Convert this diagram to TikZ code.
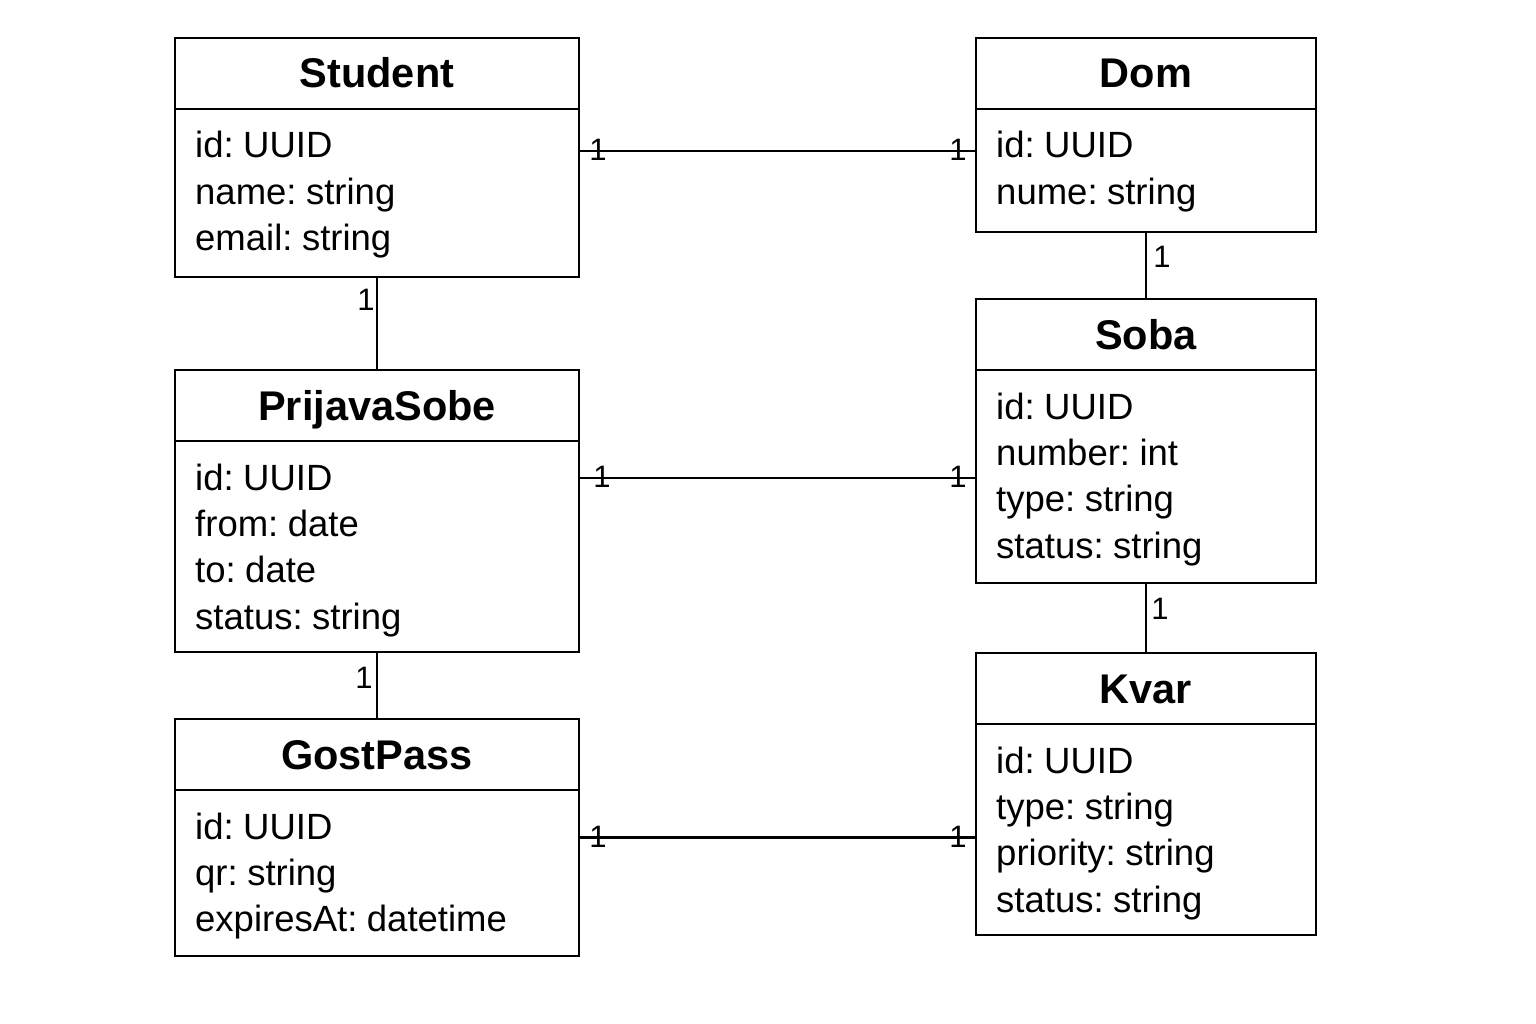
\documentclass[tikz,border=0pt]{standalone}
\usepackage{fontspec}
\setmainfont{Liberation Sans}
\newfontfamily\attrfont[WordSpace=0.6]{Liberation Sans}
\begin{document}
\begin{tikzpicture}[x=1pt,y=-1pt,
  box/.style={draw,line width=2.2pt,rectangle,inner sep=0pt},
  ctitle/.style={font=\fontsize{41.5}{46}\selectfont\bfseries,anchor=base,inner sep=0pt},
  cattr/.style={font=\attrfont\fontsize{36.5}{42}\selectfont,anchor=base west,inner sep=0pt},
  mult/.style={font=\fontsize{31}{34}\selectfont,inner sep=0pt},
  conn/.style={line width=2.4pt}]
\useasboundingbox (0,0) rectangle (1536,1024);
\fill[white] (0,0) rectangle (1536,1024);
% #1 name, #2 left, #3 top, #4 right, #5 bottom, #6 title, #7 attrs
\newcommand\umlclass[7]{%
  \node[box,minimum width={(#4-#2)*1pt},minimum height={(#5-#3)*1pt}] (#1) at ({(#2+#4)/2},{(#3+#5)/2}) {};
  \draw[line width=2.2pt] (#2,#3+71) -- (#4,#3+71);
  \node[ctitle] (#1-t) at ({(#2+#4)/2},#3+50) {#6};
  \foreach \t [count=\i] in {#7} {
    \node[cattr] (#1-a\i) at (#2+20,{#3+71+49+(\i-1)*46.4}) {\t};
  }
}
\umlclass{student}{175}{38}{579}{277}{Student}{id: UUID,name: string,email: string}
\umlclass{dom}{976}{38}{1316}{232}{Dom}{id: UUID,nume: string}
\umlclass{soba}{976}{299}{1316}{583}{Soba}{id: UUID,number: int,type: string,status: string}
\umlclass{prijava}{175}{370}{579}{652}{PrijavaSobe}{id: UUID,from: date,to: date,status: string}
\umlclass{gost}{175}{719}{579}{956}{GostPass}{id: UUID,qr: string,expiresAt: datetime}
\umlclass{kvar}{976}{653}{1316}{935}{Kvar}{id: UUID,type: string,priority: string,status: string}
% connectors
\draw[conn] ([yshift=6.5pt]student.east) coordinate (c1) -- (c1 -| dom.west) coordinate (c2);
\draw[conn] ([yshift=33pt]prijava.east) coordinate (c3) -- (c3 -| soba.west) coordinate (c4);
\draw[conn] (gost.east) coordinate (c5) -- (c5 -| kvar.west) coordinate (c6);
\draw[conn] (student.south) -- (prijava.north);
\draw[conn] (prijava.south) -- (gost.north);
\draw[conn] (dom.south) -- (soba.north);
\draw[conn] (soba.south) -- (kvar.north);
% multiplicities
\node[mult] (m1) at ([xshift=18pt,yshift=1pt]c1) {1};
\node[mult] (m2) at ([xshift=-17pt,yshift=1pt]c2) {1};
\node[mult] (m3) at ([xshift=22pt,yshift=1pt]c3) {1};
\node[mult] (m4) at ([xshift=-17pt,yshift=1pt]c4) {1};
\node[mult] (m5) at ([xshift=18pt,yshift=1pt]c5) {1};
\node[mult] (m6) at ([xshift=-17pt,yshift=1pt]c6) {1};
\node[mult] (m7) at (366,300) {1};
\node[mult] (m8) at (1162,257) {1};
\node[mult] (m9) at (364,678) {1};
\node[mult] (m10) at (1160,609) {1};
\end{tikzpicture}
\end{document}
